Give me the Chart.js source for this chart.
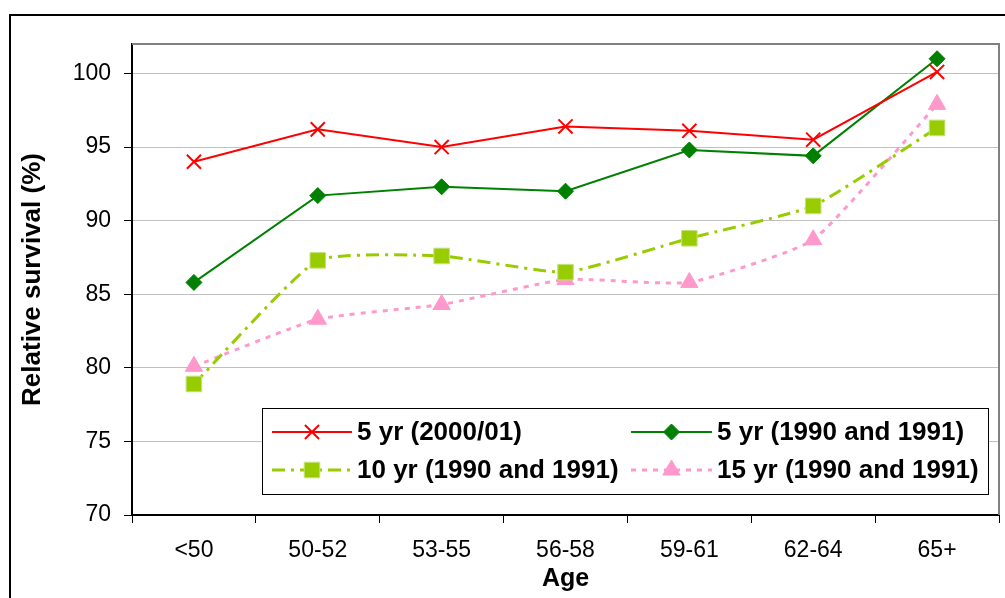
<!DOCTYPE html>
<html lang="en">
<head>
    <meta charset="UTF-8">
    <title>Relative survival by age</title>
    <script src="https://cdn.jsdelivr.net/npm/chart.js@4.4.0/dist/chart.umd.min.js"></script>
    <style>
        body{
            margin: 0;
            background: #fff;
        }
        #wrap{
            width: 1005px;
            height: 598px;
        }
    </style>
</head>
<body>
    <div id="wrap"><canvas id="canvas" width="1005" height="598"></canvas></div>

<script>
    const FONT = "'Liberation Sans', Arial, sans-serif";

    // data
    const ages = ['<50', '50-52', '53-55', '56-58', '59-61', '62-64', '65+'];
    const yTicks = [70, 75, 80, 85, 90, 95, 100];
    const seriesNames = ['5 yr (2000/01)', '5 yr (1990 and 1991)', '10 yr (1990 and 1991)', '15 yr (1990 and 1991)'];
    const fiveYr2000 = [94.0, 96.2, 95.0, 96.4, 96.1, 95.5, 100.1];
    const fiveYr1990 = [85.8, 91.7, 92.3, 92.0, 94.8, 94.4, 101.0];
    const tenYr1990 = [78.9, 87.3, 87.6, 86.5, 88.8, 91.0, 96.3];
    const fifteenYr1990 = [80.1, 83.3, 84.3, 86.0, 85.8, 88.7, 97.9];

    // frame round the whole chart, white background, gray plot border
    const framePlugin = {
        id: 'frame',
        beforeDraw(chart) {
            const ctx = chart.ctx;
            ctx.save();
            ctx.fillStyle = '#fff';
            ctx.fillRect(0, 0, chart.width, chart.height);
            ctx.strokeStyle = '#000';
            ctx.lineWidth = 2;
            ctx.strokeRect(10, 15, 2000, 2000);
            ctx.restore();
        },
        beforeDatasetsDraw(chart) {
            const ctx = chart.ctx, a = chart.chartArea;
            ctx.save();
            ctx.strokeStyle = '#808080';
            ctx.lineWidth = 2;
            ctx.beginPath();
            ctx.moveTo(a.left, a.top);
            ctx.lineTo(a.right, a.top);
            ctx.lineTo(a.right, a.bottom);
            ctx.stroke();
            ctx.restore();
        }
    };

    // legend box drawn inside the plot area
    const boxLegend = {
        id: 'boxLegend',
        afterDraw(chart) {
            const ctx = chart.ctx;
            const left = 262, top = 408, right = 988, bottom = 494;
            ctx.save();
            ctx.fillStyle = '#fff';
            ctx.fillRect(left, top, right - left, bottom - top);
            ctx.strokeStyle = '#000';
            ctx.lineWidth = 1;
            ctx.strokeRect(left + 0.5, top + 0.5, right - left, bottom - top);

            const slots = [
                {x0: 272, x1: 352, y: 432},
                {x0: 631, x1: 712, y: 432},
                {x0: 272, x1: 352, y: 470},
                {x0: 631, x1: 712, y: 470}
            ];
            chart.data.datasets.forEach(function(ds, i){
                const s = slots[i];
                ctx.save();
                ctx.strokeStyle = ds.borderColor;
                ctx.lineWidth = ds.borderWidth;
                ctx.setLineDash(ds.borderDash || []);
                ctx.beginPath();
                ctx.moveTo(s.x0, s.y);
                ctx.lineTo(s.x1, s.y);
                ctx.stroke();
                ctx.restore();

                ctx.save();
                ctx.fillStyle = ds.pointBackgroundColor;
                ctx.strokeStyle = ds.pointBorderColor;
                ctx.lineWidth = ds.pointBorderWidth;
                ctx.setLineDash([]);
                Chart.helpers.drawPoint(ctx, {
                    pointStyle: ds.pointStyle,
                    radius: ds.pointRadius,
                    rotation: 0,
                    borderWidth: ds.pointBorderWidth
                }, (s.x0 + s.x1) / 2, s.y);
                ctx.restore();

                ctx.fillStyle = '#000';
                ctx.font = 'bold 26px ' + FONT;
                ctx.textBaseline = 'middle';
                ctx.textAlign = 'left';
                ctx.fillText(ds.label, s.x1 + 5, s.y + 1);
            });
            ctx.restore();
        }
    };

    const ctx = document.getElementById('canvas').getContext('2d');
    const myChart = new Chart(ctx, {
        type: 'line',
        data: {
            labels: ages,
            datasets: [{
                label: seriesNames[0],
                data: fiveYr2000,
                borderColor: '#ff0000',
                borderWidth: 2,
                pointStyle: 'crossRot',
                pointRadius: 10,
                pointBorderWidth: 2,
                pointBackgroundColor: '#ff0000',
                pointBorderColor: '#ff0000',
                tension: 0
            }, {
                label: seriesNames[1],
                data: fiveYr1990,
                borderColor: '#008000',
                borderWidth: 2,
                pointStyle: 'rectRot',
                pointRadius: 8,
                pointBorderWidth: 1,
                pointBackgroundColor: '#008000',
                pointBorderColor: '#008000',
                tension: 0
            }, {
                label: seriesNames[2],
                data: tenYr1990,
                borderColor: '#99cc00',
                borderWidth: 3,
                borderDash: [13, 6, 3, 6],
                pointStyle: 'rect',
                pointRadius: 11,
                pointBorderWidth: 1,
                pointBackgroundColor: '#99cc00',
                pointBorderColor: '#c4e27a',
                tension: 0.15
            }, {
                label: seriesNames[3],
                data: fifteenYr1990,
                borderColor: '#ff99cc',
                borderWidth: 3,
                borderDash: [5, 6],
                pointStyle: 'triangle',
                pointRadius: 10,
                pointBorderWidth: 1,
                pointBackgroundColor: '#ff99cc',
                pointBorderColor: '#ff99cc',
                tension: 0.15
            }]
        },
        options: {
            responsive: false,
            animation: false,
            layout: {
                autoPadding: false,
                padding: {left: 0, top: 44, right: 6, bottom: 0}
            },
            plugins: {
                legend: {display: false},
                tooltip: {enabled: false}
            },
            scales: {
                x: {
                    offset: true,
                    afterFit: function(s){
                        s.height = 83;
                        s.paddingLeft = 0;
                        s.paddingRight = 0;
                    },
                    grid: {
                        offset: true,
                        drawOnChartArea: false,
                        tickLength: 8,
                        color: '#000',
                        lineWidth: 1
                    },
                    border: {color: '#000', width: 2},
                    ticks: {
                        color: '#000',
                        padding: 14,
                        maxRotation: 0,
                        font: {family: FONT, size: 23}
                    },
                    title: {
                        display: true,
                        text: 'Age',
                        color: '#000',
                        padding: {top: 0, bottom: 4},
                        font: {family: FONT, size: 25, weight: 'bold'}
                    }
                },
                y: {
                    min: yTicks[0],
                    max: 102,
                    afterFit: function(s){ s.width = 132; },
                    afterBuildTicks: function(s){
                        s.ticks = yTicks.map(function(v){ return {value: v}; });
                    },
                    grid: {
                        color: '#c0c0c0',
                        lineWidth: 1,
                        tickLength: 8,
                        tickColor: '#000'
                    },
                    border: {color: '#000', width: 2},
                    ticks: {
                        color: '#000',
                        padding: 13,
                        font: {family: FONT, size: 23}
                    },
                    title: {
                        display: true,
                        text: 'Relative survival (%)',
                        color: '#000',
                        padding: {top: 17, bottom: 0},
                        font: {family: FONT, size: 26, weight: 'bold'}
                    }
                }
            }
        },
        plugins: [framePlugin, boxLegend]
    });
</script>
</body>
</html>
